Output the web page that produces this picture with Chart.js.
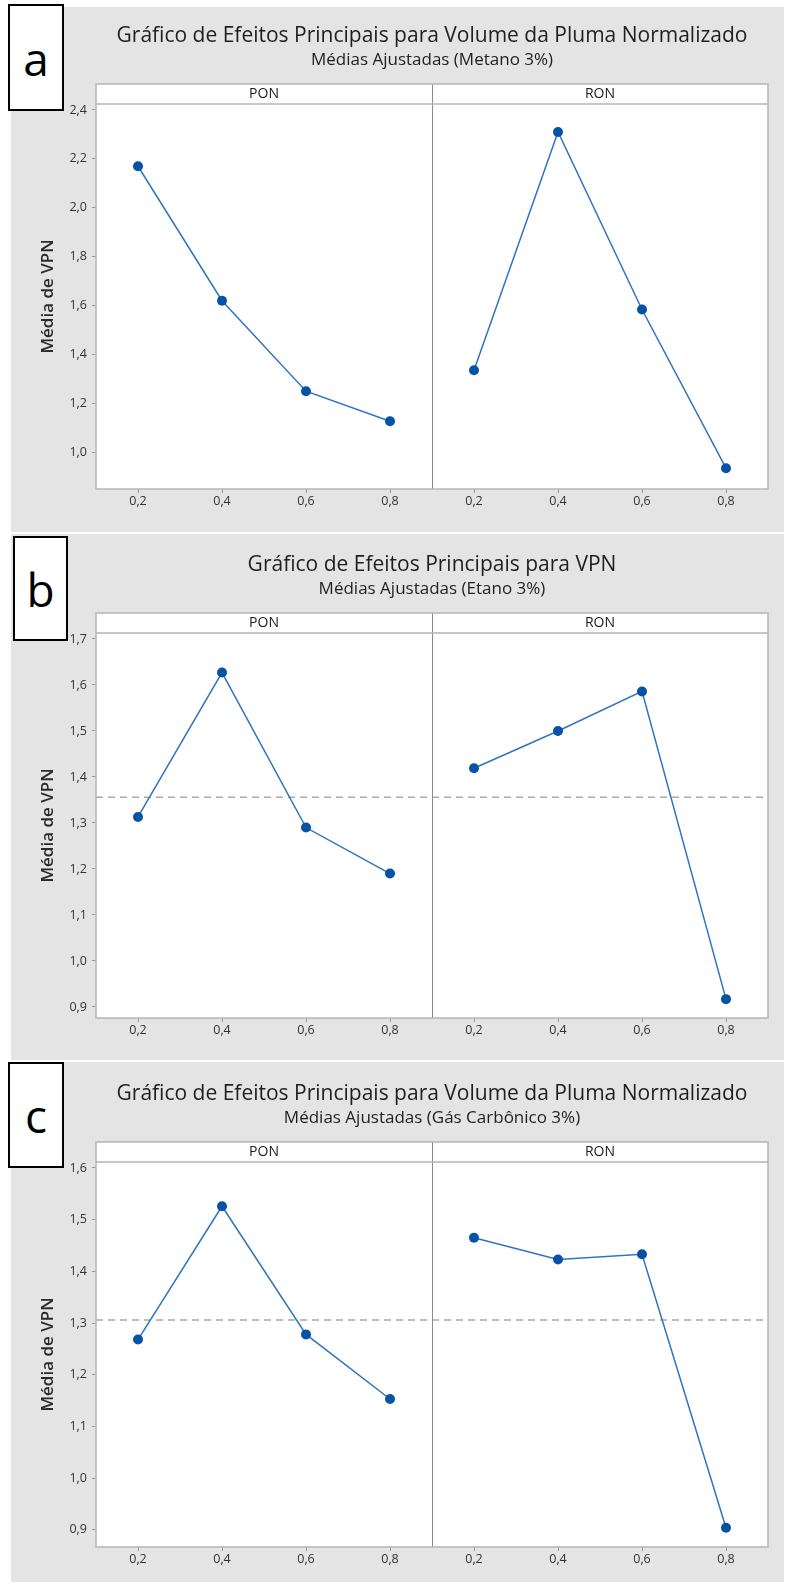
<!DOCTYPE html>
<html>
<head>
<meta charset="utf-8">
<script src="https://cdn.jsdelivr.net/npm/chart.js@4.4.1/dist/chart.umd.min.js"></script>
<style>
body{margin:0;background:#fff;width:792px;height:1586px;overflow:hidden;position:relative;font-family:"Open Sans",sans-serif;}
.bg{position:absolute;left:11px;width:773px;background:#e4e4e4;}
canvas{position:absolute;left:0;}
.tag{position:absolute;background:#fff;border:2px solid #000;box-sizing:border-box;font-size:46px;line-height:1;display:flex;align-items:center;justify-content:center;color:#000;z-index:2;}
</style>
</head>
<body>

<div class="bg" style="top:7px;height:525px"></div>
<div class="bg" style="top:534px;height:526px"></div>
<div class="bg" style="top:1062px;height:520px"></div>

<canvas id="chartA" width="792" height="529" style="top:3px"></canvas>
<canvas id="chartB" width="792" height="529" style="top:532px"></canvas>
<canvas id="chartC" width="792" height="525" style="top:1061px"></canvas>

<div class="tag" style="left:8px;top:4px;width:56px;height:107px">a</div>
<div class="tag" style="left:13px;top:536px;width:55px;height:105px">b</div>
<div class="tag" style="left:8px;top:1062px;width:56px;height:106px">c</div>

<script>

const levels=[0.2,0.4,0.6,0.8];
const facets=["PON","RON"];

const ponA=[2.17,1.62,1.25,1.127];
const ronA=[1.336,2.31,1.584,0.935];
const ponB=[1.313,1.627,1.29,1.19];
const ronB=[1.419,1.50,1.586,0.917];
const ponC=[1.268,1.526,1.278,1.153];
const ronC=[1.465,1.423,1.433,0.904];

const meanB=1.356;
const meanC=1.306;

const yTicksA=[1.0,1.2,1.4,1.6,1.8,2.0,2.2,2.4];
const yTicksB=[0.9,1.0,1.1,1.2,1.3,1.4,1.5,1.6,1.7];
const yTicksC=[0.9,1.0,1.1,1.2,1.3,1.4,1.5,1.6];

const titleA="Gráfico de Efeitos Principais para Volume da Pluma Normalizado";
const subA="Médias Ajustadas (Metano 3%)";
const titleB="Gráfico de Efeitos Principais para VPN";
const subB="Médias Ajustadas (Etano 3%)";
const titleC="Gráfico de Efeitos Principais para Volume da Pluma Normalizado";
const subC="Médias Ajustadas (Gás Carbônico 3%)";

const lineBlue="#2f74c0";
const dotBlue="#0653a5";
const font="'Open Sans', sans-serif";

function fmt(v){
return v.toFixed(1).replace(".",",");
}

function points(vals){
return levels.map((x,i)=>({x:x,y:vals[i]}));
}

const decor={
id:"decor",
beforeDraw(chart){
const a=chart.chartArea;
chart.ctx.save();
chart.ctx.fillStyle="#fff";
chart.ctx.fillRect(a.left,a.top-20,a.right-a.left,a.bottom-a.top+20);
chart.ctx.restore();
},
beforeDatasetsDraw(chart,args,opts){
const ctx=chart.ctx;
const a=chart.chartArea;
const mid=chart.scales.x1.right;
ctx.save();
if(opts.mean!=null){
const y=chart.scales.y.getPixelForValue(opts.mean);
ctx.strokeStyle="#a9a9a9";
ctx.lineWidth=1.5;
ctx.setLineDash([7,5]);
ctx.beginPath();
ctx.moveTo(a.left,y);
ctx.lineTo(a.right,y);
ctx.stroke();
ctx.setLineDash([]);
}
ctx.strokeStyle="#8a8a8a";
ctx.lineWidth=1;
ctx.beginPath();
ctx.moveTo(mid+0.5,a.top-20);
ctx.lineTo(mid+0.5,a.bottom);
ctx.stroke();
ctx.restore();
},
afterDraw(chart,args,opts){
const ctx=chart.ctx;
const a=chart.chartArea;
const mid=chart.scales.x1.right;
const cx=(a.left+a.right)/2;
ctx.save();
ctx.strokeStyle="#b5b5b5";
ctx.lineWidth=1.5;
ctx.strokeRect(a.left,a.top-20,a.right-a.left,a.bottom-a.top+20);
ctx.beginPath();
ctx.moveTo(a.left,a.top);
ctx.lineTo(a.right,a.top);
ctx.stroke();
ctx.fillStyle="#1a1a1a";
ctx.textAlign="center";
ctx.textBaseline="middle";
ctx.font="14px "+font;
ctx.fillText(facets[0],(a.left+mid)/2,a.top-10);
ctx.fillText(facets[1],(mid+a.right)/2,a.top-10);
ctx.font="21px "+font;
ctx.fillStyle="#1e1e1e";
ctx.fillText(opts.title,cx,opts.titleY);
ctx.font="17px "+font;
ctx.fillText(opts.sub,cx,opts.subY);
ctx.restore();
}
};

function xAxis(){
return {
type:"linear",
position:"bottom",
stack:"facets",
stackWeight:1,
min:0.1,
max:0.9,
offset:false,
border:{display:false},
grid:{drawOnChartArea:false,drawTicks:true,tickLength:4,color:"#9a9a9a"},
ticks:{font:{size:12.5,family:font},color:"#333",padding:1,maxRotation:0,callback:v=>fmt(v)},
afterBuildTicks:ax=>{ax.ticks=levels.map(v=>({value:v}));},
afterFit:ax=>{ax.height=30;}
};
}

function makePanel(id,pon,ron,yMin,yMax,yTicks,title,sub,mean,bottomPad){

const ds=[pon,ron].map((vals,i)=>({
data:points(vals),
xAxisID:i===0?"x1":"x2",
yAxisID:"y",
borderColor:lineBlue,
borderWidth:1.5,
pointRadius:5,
pointBackgroundColor:dotBlue,
pointBorderColor:dotBlue,
pointBorderWidth:0,
tension:0,
clip:false
}));

new Chart(document.getElementById(id),{
type:"line",
data:{datasets:ds},
options:{
responsive:false,
animation:false,
devicePixelRatio:1,
layout:{padding:{left:38,right:24,top:101,bottom:bottomPad}},
plugins:{
legend:{display:false},
tooltip:{enabled:false},
decor:{title:title,sub:sub,mean:mean,titleY:33,subY:57}
},
scales:{
x1:xAxis(),
x2:xAxis(),
y:{
type:"linear",
position:"left",
min:yMin,
max:yMax,
border:{display:false},
grid:{drawOnChartArea:false,drawTicks:true,tickLength:4,color:"#9a9a9a"},
ticks:{font:{size:12.5,family:font},color:"#333",padding:5,callback:v=>fmt(v)},
afterBuildTicks:ax=>{ax.ticks=yTicks.map(v=>({value:v}));},
afterFit:ax=>{ax.width=58;},
title:{display:true,text:"Média de VPN",font:{size:17,weight:"600",family:font},color:"#2a2a2a",padding:{top:0,bottom:0}}
}
}
},
plugins:[decor]
});

}

makePanel("chartA",ponA,ronA,0.85,2.4245,yTicksA,titleA,subA,null,13);
makePanel("chartB",ponB,ronB,0.876,1.713,yTicksB,titleB,subB,meanB,13);
makePanel("chartC",ponC,ronC,0.8666,1.6116,yTicksC,titleC,subC,meanC,9);

</script>
</body>
</html>
